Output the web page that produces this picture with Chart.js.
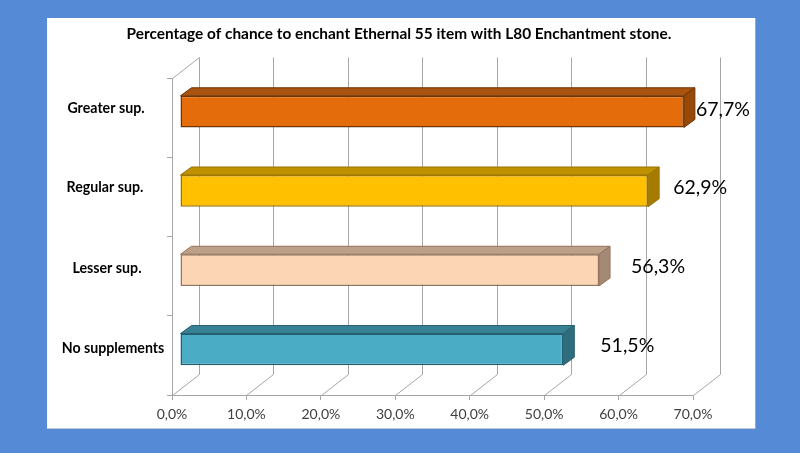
<!DOCTYPE html>
<html>
<head>
<meta charset="utf-8">
<style>
  html, body { margin: 0; padding: 0; background: #548ad6; overflow: hidden; }
  canvas { display: block; }
</style>
</head>
<body>
<canvas id="grafico" width="800" height="453"></canvas>
<script src="https://cdn.jsdelivr.net/npm/chart.js@4/dist/chart.umd.min.js"></script>
<script>
const titulo = "Percentage of chance to enchant Ethernal 55 item with L80 Enchantment stone.";
const categorias = ["Greater sup.", "Regular sup.", "Lesser sup.", "No supplements"];
const valores = [67.7, 62.9, 56.3, 51.5];
const eixoMax = 70;
const eixoPasso = 10;

// cores de cada barra: frente, borda, topo, lado
const corFrente = ["#e46c0a", "#ffc000", "#fcd5b5", "#4bacc6"];
const corBorda = ["#6f3505", "#9a7300", "#94735a", "#25606f"];
const corTopo = ["#a8530f", "#bf9000", "#bda088", "#388194"];
const corLado = ["#984807", "#a67c00", "#a38a76", "#2f6d7e"];

// ajustes do desenho 3D
const parede = { dx: 27, dy: -21 };
const barra = { dx: 8, dy: -6, fundoX: 11, fundoY: -8 };
const centroRotulo = [106, 105, 107, 113];
const alturaRotulo = [-9.5, -9, -8, -7];
const folgaValor = [1, 14, 21, 26];
const ajusteValorY = [-2, -3, -3, -4];
const fonte = "Lato, Carlito, sans-serif";
const corGrade = "#a6a6a6";

const fmt = (v) => v.toFixed(1).replace(".", ",") + "%";

function poligono(ctx, pts, fill, stroke) {
    ctx.beginPath();
    pts.forEach((p, i) => (i ? ctx.lineTo(p[0], p[1]) : ctx.moveTo(p[0], p[1])));
    ctx.closePath();
    ctx.fillStyle = fill;
    ctx.fill();
    ctx.strokeStyle = stroke;
    ctx.lineWidth = 1;
    ctx.stroke();
}

const plugin3d = {
    id: "plugin3d",
    beforeDraw(chart) {
        const ctx = chart.ctx;
        ctx.save();
        ctx.fillStyle = "#548ad6";
        ctx.fillRect(0, 0, 800, 453);
        ctx.fillStyle = "#c3c9d2";
        ctx.fillRect(47, 18, 708.5, 411);
        ctx.fillStyle = "#ffffff";
        ctx.fillRect(47, 18, 708, 410);
        ctx.restore();
    },
    beforeDatasetsDraw(chart) {
        const ctx = chart.ctx;
        const { left, top, bottom } = chart.chartArea;
        const x = chart.scales.x;

        // paredes e grade do fundo
        ctx.save();
        ctx.strokeStyle = corGrade;
        ctx.lineWidth = 1;
        ctx.beginPath();
        ctx.moveTo(left + 0.5, top + 0.5);
        ctx.lineTo(left + parede.dx + 0.5, top + parede.dy + 0.5);
        x.ticks.forEach((t) => {
            const px = Math.round(x.getPixelForValue(t.value)) + 0.5;
            ctx.moveTo(px, bottom + 0.5);
            ctx.lineTo(px + parede.dx, bottom + parede.dy + 0.5);
            ctx.lineTo(px + parede.dx, top + parede.dy + 0.5);
        });
        ctx.stroke();
        ctx.restore();

        // topo e lado das barras; a frente quem desenha e o Chart.js
        ctx.save();
        ctx.translate(barra.dx, barra.dy);
        chart.getDatasetMeta(0).data.forEach((el, i) => {
            const h = el.height / 2;
            const fx = barra.fundoX, fy = barra.fundoY;
            poligono(ctx, [[el.base, el.y - h], [el.base + fx, el.y - h + fy],
                [el.x + fx, el.y - h + fy], [el.x, el.y - h]], corTopo[i], corBorda[i]);
            poligono(ctx, [[el.x, el.y - h], [el.x + fx, el.y - h + fy],
                [el.x + fx, el.y + h + fy], [el.x, el.y + h]], corLado[i], corBorda[i]);
        });
    },
    afterDatasetsDraw(chart) {
        chart.ctx.restore();
    },
    afterDraw(chart) {
        const ctx = chart.ctx;
        const y = chart.scales.y;
        ctx.save();
        ctx.textBaseline = "middle";
        ctx.textAlign = "center";
        ctx.fillStyle = "#000000";
        ctx.font = "bold 15.4px " + fonte;
        ctx.fillText(titulo, 399, 34.5);

        ctx.font = "bold 14.2px " + fonte;
        categorias.forEach((c, i) => {
            ctx.fillText(c, centroRotulo[i], y.getPixelForTick(i) + alturaRotulo[i]);
        });

        ctx.textAlign = "left";
        ctx.font = "19.5px " + fonte;
        chart.getDatasetMeta(0).data.forEach((el, i) => {
            const px = el.x + barra.dx + barra.fundoX + folgaValor[i];
            ctx.fillText(fmt(valores[i]), px, el.y + barra.dy + ajusteValorY[i]);
        });
        ctx.restore();
    }
};

new Chart(document.getElementById("grafico").getContext("2d"), {
    type: "bar",
    data: {
        labels: categorias,
        datasets: [{
            data: valores,
            backgroundColor: corFrente,
            borderColor: corBorda,
            borderWidth: 1.5,
            borderSkipped: false,
            categoryPercentage: 1,
            barPercentage: 0.4
        }]
    },
    options: {
        indexAxis: "y",
        responsive: false,
        animation: false,
        devicePixelRatio: 1,
        layout: { padding: { left: 0, right: 107, top: 78, bottom: 0 } },
        plugins: {
            legend: { display: false },
            title: { display: false },
            tooltip: { enabled: false }
        },
        scales: {
            x: {
                min: 0,
                max: eixoMax,
                afterFit: (s) => { s.height = 58; },
                grid: { drawOnChartArea: false, color: corGrade, tickLength: 5 },
                border: { color: corGrade },
                ticks: {
                    stepSize: eixoPasso,
                    maxRotation: 0,
                    padding: 6,
                    color: "#404040",
                    font: { family: fonte, size: 14 },
                    callback: (v) => fmt(v)
                }
            },
            y: {
                afterFit: (s) => { s.width = 172; },
                grid: { drawOnChartArea: false, color: corGrade, tickLength: 5 },
                border: { color: corGrade },
                ticks: { display: false }
            }
        }
    },
    plugins: [plugin3d]
});
</script>
</body>
</html>
